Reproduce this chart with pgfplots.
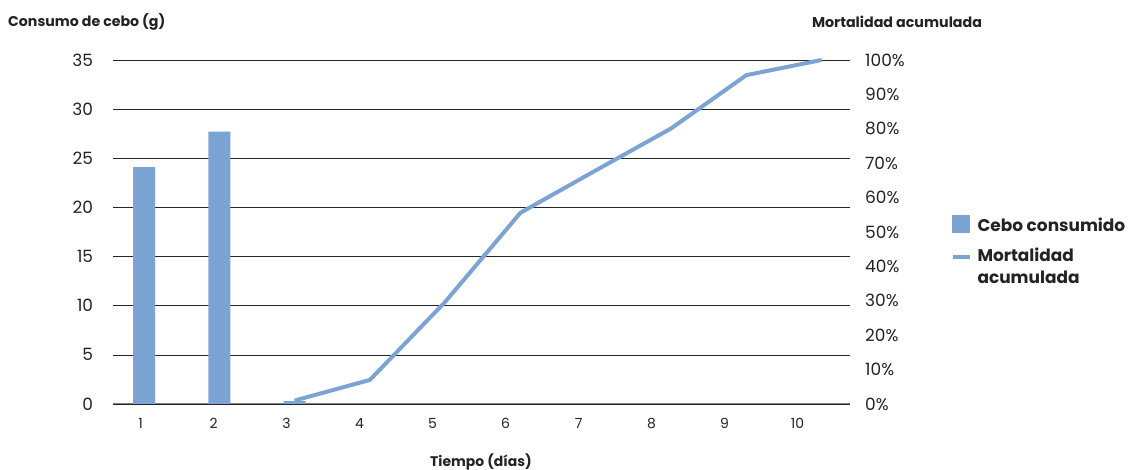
\documentclass[border=0pt]{standalone}
\usepackage{pgfplots}
\pgfplotsset{compat=1.18}
\usepackage{fontspec}
\setmainfont{Poppins}
\definecolor{barblue}{RGB}{123,164,213}
\definecolor{txt}{RGB}{35,35,35}
\begin{document}
\begin{tikzpicture}[x=1bp,y=1bp]
\useasboundingbox (0,0) rectangle (1129,470);
\begin{axis}[at={(112.7bp,66bp)}, anchor=south west, scale only axis,
  width=737.3bp, height=344bp,
  xmin=0.584, xmax=10.376, ymin=0, ymax=35,
  ytick={0,5,10,15,20,25,30,35},
  xtick={0.954,1.9235,2.893,3.8625,4.832,5.8015,6.771,7.7405,8.71,9.6795},
  xticklabels={1,2,3,4,5,6,7,8,9,10},
  axis x line*=bottom, axis y line*=left,
  y axis line style={draw=none},
  x axis line style={draw=gray, line width=1pt, -},
  major tick length=0pt,
  ymajorgrids, grid style={black!85, line width=0.7pt},
  /pgf/number format/assume math mode=true,
  yticklabel style={font=\fontsize{17}{17}\selectfont, text=txt, anchor=east, inner sep=0pt, xshift=-19.4bp},
  xticklabel style={font=\fontsize{14}{14}\selectfont, text=txt, anchor=north, inner sep=0pt, yshift=-14.5bp},
  ybar, bar width=22bp,
]
\addplot[fill=barblue, draw=none] coordinates {(1,24.1) (2,27.7) (3,0.3)};
\end{axis}
\begin{axis}[at={(112.7bp,66bp)}, anchor=south west, scale only axis,
  width=737.3bp, height=344bp,
  xmin=0.584, xmax=10.376, ymin=0, ymax=1,
  axis y line*=right, axis x line=none,
  y axis line style={draw=none},
  major tick length=0pt,
  ytick={0,0.1,0.2,0.3,0.4,0.5,0.6,0.7,0.8,0.9,1},
  yticklabels={0\%,10\%,20\%,30\%,40\%,50\%,60\%,70\%,80\%,90\%,100\%},
  yticklabel style={font=\fontsize{17}{17}\selectfont, text=txt, anchor=west, inner sep=0pt, xshift=15bp},
  clip=false,
  legend cell align=left,
  legend style={at={(1.132,0.476)}, anchor=west, draw=none, fill=none,
    font=\fontsize{17}{20}\selectfont\bfseries, text=txt, row sep=11bp,
    cells={anchor=base west},
    /tikz/every odd column/.append style={column sep=4bp}},
]
\addplot[barblue, line width=4bp, line join=round, forget plot] coordinates {
 (3,0.01) (4,0.07) (5,0.297) (6,0.556) (7,0.679) (8,0.801) (9,0.956) (10,1.0)};
\addlegendimage{legend image code/.code={\fill[barblue] (0bp,-1bp) rectangle (17bp,16bp);}}
\addlegendentry{Cebo consumido}
\addlegendimage{legend image code/.code={\draw[barblue, line width=4bp] (0bp,5bp) -- (17bp,5bp);}}
\addlegendentry{\begin{tabular}[t]{@{}l@{}}Mortalidad\\[2bp]acumulada\end{tabular}}
\end{axis}
\node[anchor=west, inner sep=0pt, text=txt, font=\fontsize{14.2}{14}\selectfont\bfseries] at (8,448) {Consumo de cebo (g)};
\node[inner sep=0pt, text=txt, font=\fontsize{14.3}{14}\selectfont\bfseries] at (897,448) {Mortalidad acumulada};
\node[inner sep=0pt, text=txt, font=\fontsize{14}{14}\selectfont\bfseries] at (481,8) {Tiempo (días)};
\end{tikzpicture}
\end{document}
